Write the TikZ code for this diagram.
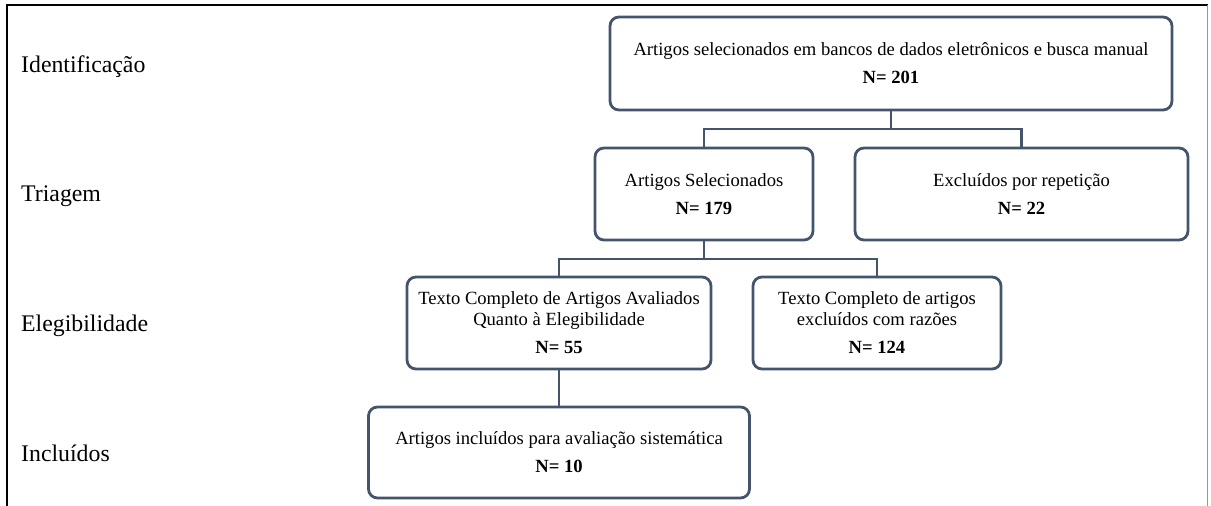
\documentclass[tikz,border=0pt]{standalone}
\usepackage{fontspec}
\setmainfont{Liberation Serif}
\definecolor{boxc}{RGB}{68,84,106}
\definecolor{rightc}{RGB}{150,150,150}
\begin{document}
\begin{tikzpicture}[x=1pt,y=-1pt,
  box/.style={draw=boxc, line width=2.8pt, rounded corners=9pt, align=center, inner sep=0pt,
    font=\fontsize{18.6}{21}\selectfont},
  conn/.style={draw=boxc, line width=2.8pt},
  stage/.style={anchor=base west, inner sep=0pt, font=\fontsize{23.8}{28}\selectfont},
  frame/.style={draw=black, line width=2pt}]
\useasboundingbox (0,0) rectangle (1211,506);
% frame
\coordinate (ftl) at (7,5);
\coordinate (ftr) at (1207.5,5);
\coordinate (fbl) at (7,506);
\coordinate (fbr) at (1207.5,506);
\draw[frame] (fbl) -- (ftl) -- (ftr);
\draw[draw=rightc, line width=1pt] (ftr) -- (fbr);
% stage labels
\node[stage] (l1) at (21,72) {Identificação};
\node[stage] (l2) at (21,201) {Triagem};
\node[stage] (l3) at (21,331) {Elegibilidade};
\node[stage] (l4) at (21,461) {Incluídos};
% boxes
\node[box, minimum width=562pt, minimum height=93pt] (top) at (891,63.5)
  {Artigos selecionados em bancos de dados eletrônicos e busca manual\\[7pt]\textbf{N= 201}};
\node[box, minimum width=218pt, minimum height=92pt] (sel) at (704,194)
  {Artigos Selecionados\\[7pt]\textbf{N= 179}};
\node[box, minimum width=333pt, minimum height=92pt] (exc) at (1021.5,194)
  {Excluídos por repetição\\[7pt]\textbf{N= 22}};
\node[box, minimum width=304pt, minimum height=92pt] (txt) at (559,323)
  {Texto Completo de Artigos Avaliados\\Quanto à Elegibilidade\\[7pt]\textbf{N= 55}};
\node[box, minimum width=248pt, minimum height=92pt] (exc2) at (877,323)
  {Texto Completo de artigos\\excluídos com razões\\[7pt]\textbf{N= 124}};
\node[box, minimum width=381pt, minimum height=91pt] (inc) at (559,452.5)
  {Artigos incluídos para avaliação sistemática\\[7pt]\textbf{N= 10}};
% connectors
\coordinate (j1) at (891,129);
\coordinate (j2) at (704,259);
\draw[conn] (top.south) -- (j1);
\draw[conn] (j1) -| (sel.north);
\draw[conn] (j1) -| (exc.north);
\draw[conn] (sel.south) -- (j2);
\draw[conn] (j2) -| (txt.north);
\draw[conn] (j2) -| (exc2.north);
\draw[conn] (txt.south) -- (inc.north);
\end{tikzpicture}
\end{document}
